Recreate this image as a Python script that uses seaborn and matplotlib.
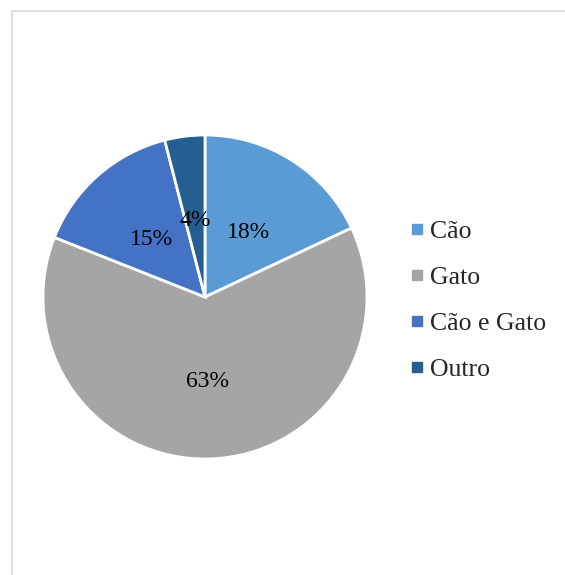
import matplotlib
matplotlib.use("Agg")
import matplotlib.pyplot as plt
from matplotlib.patches import Rectangle
from matplotlib.lines import Line2D
from matplotlib.transforms import offset_copy
import seaborn as sns

# Pet ownership shares
categories = ["Cão", "Gato", "Cão e Gato", "Outro"]
shares = [18, 63, 15, 4]
colors = ["#5B9BD5", "#A5A5A5", "#4472C4", "#255E91"]

sns.set_theme(style="white")
plt.rcParams["font.family"] = ["Liberation Serif", "DejaVu Serif"]

W, H = 565, 575
fig = plt.figure(figsize=(W / 100, H / 100), dpi=100)

# light frame around the chart area (only top and left edges fall inside the image)
fig.add_artist(Rectangle((12 / W, -0.1), 1.2, (H - 11) / H + 0.1,
                         transform=fig.transFigure, fill=False,
                         edgecolor="#D9D9D9", linewidth=1.2))

cx, cy, r = 205, 297, 162
ax = fig.add_axes([(cx - r) / W, (H - cy - r) / H, 2 * r / W, 2 * r / H])
wedges, texts, autotexts = ax.pie(
    shares, colors=colors, startangle=90, counterclock=False,
    autopct=lambda p: f"{p:.0f}%", pctdistance=0.5,
    wedgeprops=dict(edgecolor="white", linewidth=2.0),
    textprops=dict(fontsize=17, color="black"))
ax.set_xlim(-1, 1)
ax.set_ylim(-1, 1)
ax.set_aspect("auto")

# nudge percentage labels so the digits sit centred on their anchor
for t in autotexts:
    t.set_transform(offset_copy(ax.transData, fig=fig, x=0, y=-3.5, units="dots"))

handles = [Line2D([], [], marker="s", linestyle="", markersize=7.2,
                  markerfacecolor=c, markeredgecolor=c) for c in colors]
fig.legend(handles, categories, loc="center left",
           bbox_to_anchor=(410.5 / W, 1 - 300.5 / H), frameon=False,
           fontsize=18.5, handlelength=0.5, handletextpad=0.26,
           labelspacing=0.9, borderaxespad=0, borderpad=0)

fig.savefig("out.png", dpi=100, facecolor="white")
